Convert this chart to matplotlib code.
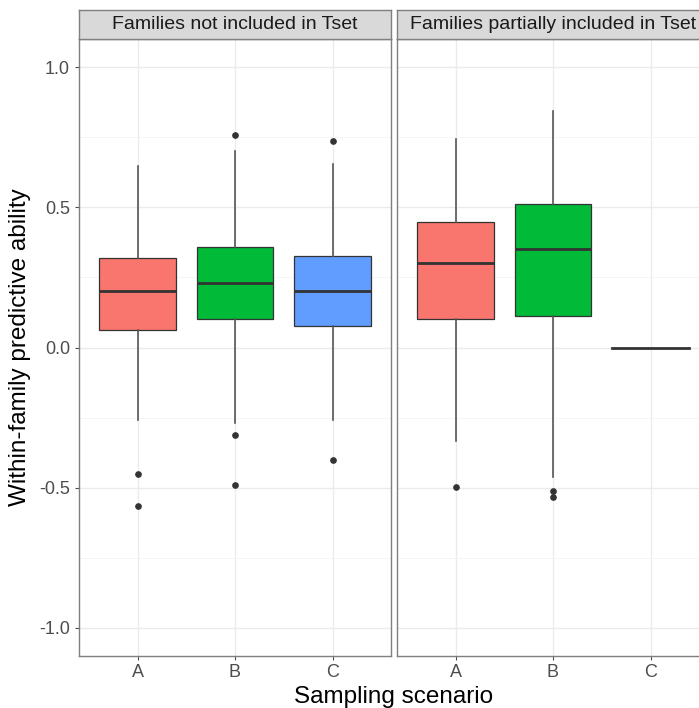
import matplotlib.pyplot as plt

plt.rcParams['font.family'] = ['Liberation Sans', 'DejaVu Sans']

# data (box stats per panel and scenario)
scenarios = ['A', 'B', 'C']
panels = ['Families not included in Tset', 'Families partially included in Tset']
colors = ['#F8766D', '#00BA38', '#619CFF']

whislo = [[-0.26, -0.27, -0.26], [-0.335, -0.463, 0.0]]
q1 = [[0.064, 0.103, 0.078], [0.10, 0.114, 0.0]]
med = [[0.20, 0.23, 0.20], [0.30, 0.352, 0.0]]
q3 = [[0.32, 0.36, 0.327], [0.448, 0.512, 0.0]]
whishi = [[0.648, 0.70, 0.655], [0.744, 0.843, 0.0]]
fliers = [[[-0.45, -0.566], [0.758, -0.313, -0.49], [0.737, -0.40]],
          [[-0.498], [-0.512, -0.534], []]]

fig = plt.figure(figsize=(6.99, 7.08), dpi=100)
W, H = 699, 708
lefts = [79, 397]
pw = 312
top, bottom = 39, 656

for p in range(2):
    ax = fig.add_axes([lefts[p] / W, (H - bottom) / H, pw / W, (bottom - top) / H])
    stats = []
    for i in range(3):
        stats.append(dict(whislo=whislo[p][i], q1=q1[p][i], med=med[p][i], q3=q3[p][i],
                          whishi=whishi[p][i], fliers=fliers[p][i]))
    n = 3 if p == 0 else 2
    bp = ax.bxp(stats[:n], positions=range(1, n + 1), widths=0.78, patch_artist=True,
                boxprops=dict(edgecolor='#333333', linewidth=0.9),
                whiskerprops=dict(color='#555555', linewidth=1.2),
                capprops=dict(linewidth=0),
                medianprops=dict(color='#333333', linewidth=2),
                flierprops=dict(marker='o', markerfacecolor='#333333', markeredgecolor='#333333',
                                markersize=3.8))
    for b, c in zip(bp['boxes'], colors):
        b.set_facecolor(c)
    if p == 1:
        # scenario C collapses to a single line at 0
        ax.plot([3 - 0.39, 3 + 0.39], [med[1][2], med[1][2]], color='#333333', linewidth=2)

    ax.set_xlim(0.4, 3.6)
    ax.set_ylim(-1.1, 1.1)
    ax.set_xticks([1, 2, 3])
    ax.set_xticklabels(scenarios)
    ax.set_yticks([-1.0, -0.5, 0.0, 0.5, 1.0])
    ax.set_yticks([-0.75, -0.25, 0.25, 0.75], minor=True)
    ax.set_xticks([], minor=True)
    ax.grid(True, which='major', color='#EBEBEB', linewidth=1)
    ax.grid(True, which='minor', axis='y', color='#F4F4F4', linewidth=0.6)
    ax.set_axisbelow(True)
    ax.tick_params(which='minor', length=0)
    ax.tick_params(which='major', colors='#4D4D4D', labelcolor='#4D4D4D',
                   labelsize=13, length=3, width=0.8)
    ax.tick_params(axis='x', pad=2.5)
    for s in ax.spines.values():
        s.set_color('#7F7F7F')
        s.set_linewidth(1)
    if p == 0:
        ax.set_yticklabels(['-1.0', '-0.5', '0.0', '0.5', '1.0'])
        ax.set_ylabel('Within-family predictive ability', fontsize=17.5, color='black', labelpad=6)
    else:
        ax.tick_params(axis='y', left=False, labelleft=False)

    # facet strip
    sax = fig.add_axes([lefts[p] / W, (H - top) / H, pw / W, 29 / H])
    sax.set_xticks([])
    sax.set_yticks([])
    sax.set_facecolor('#D9D9D9')
    for s in sax.spines.values():
        s.set_color('#7F7F7F')
        s.set_linewidth(1)
    sax.text(0.5, 0.5, panels[p], ha='center', va='center', fontsize=14, color='#1A1A1A',
             transform=sax.transAxes)

fig.text(394 / W, 5 / H, 'Sampling scenario', ha='center', va='baseline',
         fontsize=17.5, color='black')

fig.savefig('out.png', dpi=100)
